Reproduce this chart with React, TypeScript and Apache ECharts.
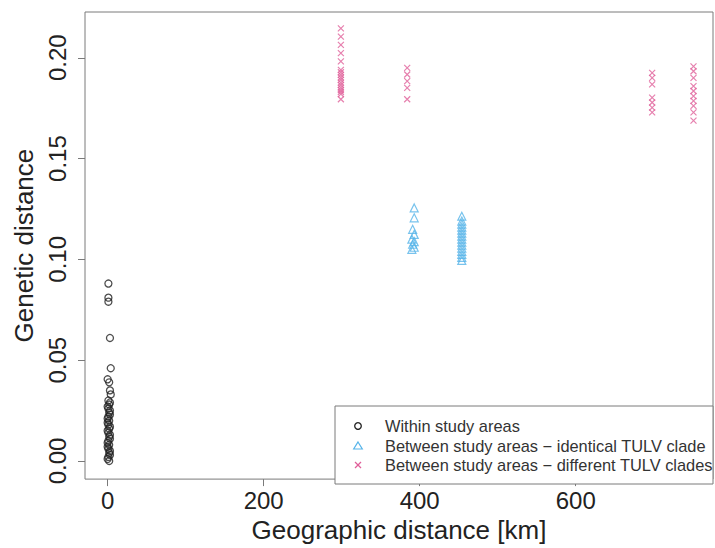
import React, { useEffect, useRef } from "react";
import * as echarts from "echarts";

// ---- Data ----
const xTickValues = [0, 200, 400, 600];
const yTickValues = [0, 0.05, 0.1, 0.15, 0.2];

const seriesNames = [
  "Within study areas",
  "Between study areas \u2212 identical TULV clade",
  "Between study areas \u2212 different TULV clades",
];

// Within study areas: [geographic km, genetic distance]
const withinAreas: number[][] = [
  [1, 0.088], [1, 0.081], [1, 0.079], [3, 0.061], [4, 0.046], [0, 0.0405],
  [2, 0.039], [3, 0.035], [4, 0.033], [1, 0.03], [2, 0.028], [0, 0.027],
  [1, 0.026], [2, 0.024], [3, 0.023], [1, 0.022], [2, 0.02], [0, 0.019],
  [1, 0.018], [2, 0.016], [1, 0.014], [3, 0.013], [2, 0.012], [1, 0.01],
  [0, 0.009], [2, 0.008], [1, 0.006], [3, 0.005], [2, 0.004], [1, 0.002],
  [0, 0.001], [2, 0.0], [3, 0.029], [3, 0.025], [0, 0.021], [3, 0.017],
  [0, 0.015], [3, 0.011], [0, 0.007], [3, 0.003],
];

// Between study areas - identical TULV clade
const identicalClade: number[][] = [
  [393, 0.1255], [393, 0.1206], [391, 0.1149], [393, 0.1124], [390, 0.11],
  [393, 0.1088], [391, 0.1075], [393, 0.106], [390, 0.105],
  [454, 0.1214], [454, 0.119], [454, 0.1175], [454, 0.116], [454, 0.1145],
  [454, 0.113], [454, 0.1115], [454, 0.11], [454, 0.1085], [454, 0.107],
  [454, 0.1055], [454, 0.104], [454, 0.1025], [454, 0.101], [454, 0.0995],
];

// Between study areas - different TULV clades
const differentClades: number[][] = [
  [299, 0.2146], [299, 0.2105], [299, 0.2064], [299, 0.2023], [299, 0.1982],
  [299, 0.194], [299, 0.1928], [299, 0.1915], [299, 0.1902], [299, 0.189],
  [299, 0.1877], [299, 0.1865], [299, 0.1852], [299, 0.184], [299, 0.183],
  [299, 0.182], [299, 0.1794],
  [384, 0.195], [384, 0.1917], [384, 0.1884], [384, 0.1851], [384, 0.1794],
  [698, 0.1925], [698, 0.19], [698, 0.1868], [698, 0.1802], [698, 0.1778],
  [698, 0.1753], [698, 0.1729],
  [751, 0.1957], [751, 0.1933], [751, 0.19], [751, 0.1859], [751, 0.1835],
  [751, 0.181], [751, 0.1786], [751, 0.1761], [751, 0.1729], [751, 0.1688],
];

const BLACK = "#222222";
const BLUE = "#56B4E9";
const PINK = "#E0609A";
const FRAME = "#7a7a7a";
const FONT = "Liberation Sans, Arial, sans-serif";
const CROSS = "path://M0,0L10,10M10,0L0,10";

export default function App() {
  const ref = useRef<HTMLDivElement>(null);

  useEffect(() => {
    if (!ref.current) return;
    const chart = echarts.init(ref.current, undefined, { renderer: "svg" });

    const legendX = 335;
    const legendY = 406;
    const rowY = [426, 446, 465];
    const symX = 358;
    const textX = 385;

    chart.setOption({
      animation: false,
      backgroundColor: "#ffffff",
      textStyle: { fontFamily: FONT },
      grid: {
        left: 85,
        top: 12,
        right: 2,
        bottom: 64,
        show: true,
        borderColor: FRAME,
        borderWidth: 1,
        backgroundColor: "transparent",
      },
      xAxis: {
        type: "value",
        min: -29,
        max: 776,
        name: "Geographic distance [km]",
        nameLocation: "middle",
        nameGap: 36,
        nameTextStyle: { fontSize: 26, color: BLACK, fontFamily: FONT },
        splitLine: { show: false },
        axisLine: { show: false, onZero: false },
        axisTick: {
          show: true,
          length: 7,
          customValues: xTickValues,
          lineStyle: { color: FRAME },
        },
        axisLabel: {
          customValues: xTickValues,
          fontSize: 24,
          color: BLACK,
          margin: 9,
          fontFamily: FONT,
        },
      },
      yAxis: {
        type: "value",
        min: -0.009,
        max: 0.2227,
        name: "Genetic distance",
        nameLocation: "middle",
        nameRotate: 90,
        nameGap: 38,
        nameTextStyle: { fontSize: 26, color: BLACK, fontFamily: FONT },
        splitLine: { show: false },
        axisLine: { show: false, onZero: false },
        axisTick: {
          show: true,
          length: 7,
          customValues: yTickValues,
          lineStyle: { color: FRAME },
        },
        axisLabel: {
          customValues: yTickValues,
          rotate: 90,
          fontSize: 24,
          color: BLACK,
          margin: 16,
          fontFamily: FONT,
          formatter: (v: number) => v.toFixed(2),
        },
      },
      series: [
        {
          name: seriesNames[0],
          type: "scatter",
          data: withinAreas,
          symbol: "circle",
          symbolSize: 7,
          itemStyle: { color: "transparent", borderColor: BLACK, borderWidth: 1.3 },
        },
        {
          name: seriesNames[1],
          type: "scatter",
          data: identicalClade,
          symbol: "triangle",
          symbolSize: 8,
          itemStyle: { color: "transparent", borderColor: BLUE, borderWidth: 1.2 },
        },
        {
          name: seriesNames[2],
          type: "scatter",
          data: differentClades,
          symbol: CROSS,
          symbolSize: 6,
          itemStyle: { color: "transparent", borderColor: PINK, borderWidth: 1.2 },
        },
      ],
      graphic: [
        {
          type: "rect",
          z: 100,
          shape: { x: legendX, y: legendY, width: 713 - legendX, height: 484 - legendY },
          style: { fill: "#ffffff", stroke: FRAME, lineWidth: 1 },
        },
        {
          type: "circle",
          z: 101,
          shape: { cx: symX, cy: rowY[0], r: 3.3 },
          style: { fill: "transparent", stroke: BLACK, lineWidth: 1.3 },
        },
        {
          type: "polygon",
          z: 101,
          shape: {
            points: [
              [symX, rowY[1] - 4],
              [symX + 4.3, rowY[1] + 3],
              [symX - 4.3, rowY[1] + 3],
            ],
          },
          style: { fill: "transparent", stroke: BLUE, lineWidth: 1.2 },
        },
        {
          type: "line",
          z: 101,
          shape: { x1: symX - 3, y1: rowY[2] - 3, x2: symX + 3, y2: rowY[2] + 3 },
          style: { stroke: PINK, lineWidth: 1.2 },
        },
        {
          type: "line",
          z: 101,
          shape: { x1: symX + 3, y1: rowY[2] - 3, x2: symX - 3, y2: rowY[2] + 3 },
          style: { stroke: PINK, lineWidth: 1.2 },
        },
        ...seriesNames.map((name, i) => ({
          type: "text",
          z: 101,
          x: textX,
          y: rowY[i],
          style: {
            text: name,
            fontSize: 16.4,
            fontFamily: FONT,
            fill: "#333333",
            verticalAlign: "middle",
            align: "left",
          },
        })),
      ],
    });

    return () => chart.dispose();
  }, []);

  return (
    <div
      ref={ref}
      style={{ position: "fixed", left: 0, top: 0, width: 715, height: 548, background: "#fff" }}
    />
  );
}
